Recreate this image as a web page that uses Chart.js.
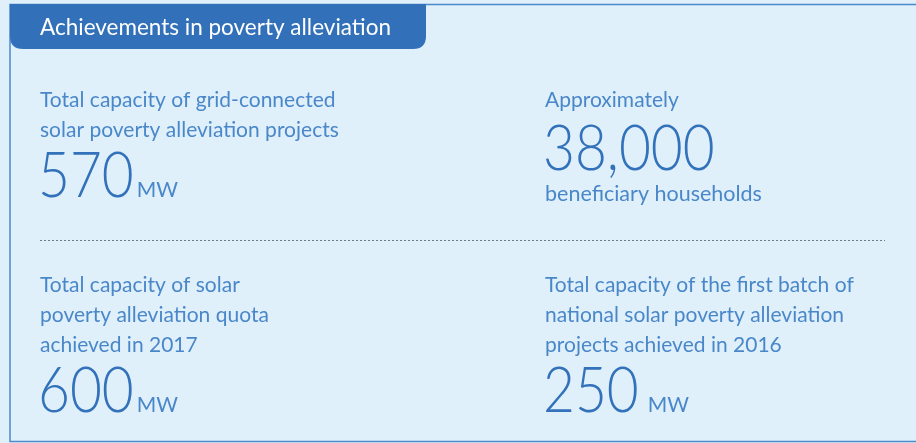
<!DOCTYPE html>
<html>
<head>
<meta charset="utf-8">
<script src="https://cdn.jsdelivr.net/npm/chart.js@4"></script>
<style>
  html, body { margin: 0; padding: 0; background: #fff; }
  #wrap { width: 916px; height: 443px; }
</style>
</head>
<body>
<div id="wrap"><canvas id="chart" width="916" height="443"></canvas></div>
<script>
// Poverty alleviation highlights: four headline figures in a two by two panel.
const title = "Achievements in poverty alleviation";
const captions = [
  ["Total capacity of grid-connected", "solar poverty alleviation projects"],
  ["Approximately"],
  ["Total capacity of solar", "poverty alleviation quota", "achieved in 2017"],
  ["Total capacity of the first batch of", "national solar poverty alleviation", "projects achieved in 2016"],
];
const values = [570, 38000, 600, 250];
const units = ["MW", "beneficiary households", "MW", "MW"];

const BG = "#dff0fb";
const TAB = "#3271b9";
const LABEL = "#4a87c9";
const NUM = "#3372ba";
const FONT = "Lato, 'Noto Sans', sans-serif";

function fmt(v) {
  return v.toLocaleString("en-US");
}

// the whole panel is painted by this plugin, figures come from chart.data
const panel = {
  id: "panel",
  beforeDraw(chart) {
    const ctx = chart.ctx;
    const W = chart.width, H = chart.height;
    ctx.save();
    ctx.fillStyle = BG;
    ctx.fillRect(0, 0, W, H);

    // frame
    ctx.strokeStyle = "#4b89cb";
    ctx.lineWidth = 1.5;
    ctx.beginPath();
    ctx.moveTo(W, 4.5);
    ctx.lineTo(10, 4.5);
    ctx.lineTo(10, H - 1.5);
    ctx.lineTo(W, H - 1.5);
    ctx.stroke();

    // header tab
    const r = 13;
    ctx.fillStyle = TAB;
    ctx.beginPath();
    ctx.moveTo(10, 4);
    ctx.lineTo(426, 4);
    ctx.lineTo(426, 49 - r);
    ctx.quadraticCurveTo(426, 49, 426 - r, 49);
    ctx.lineTo(10 + r, 49);
    ctx.quadraticCurveTo(10, 49, 10, 49 - r);
    ctx.closePath();
    ctx.fill();
    ctx.fillStyle = "#ffffff";
    ctx.font = "400 22.5px " + FONT;
    ctx.textBaseline = "alphabetic";
    ctx.fillText(title, 40, 35);

    // dotted divider
    ctx.strokeStyle = "#6f7c87";
    ctx.lineWidth = 1;
    ctx.setLineDash([2, 2]);
    ctx.beginPath();
    ctx.moveTo(40, 240.5);
    ctx.lineTo(885, 240.5);
    ctx.stroke();
    ctx.setLineDash([]);

    const vals = chart.data.datasets[0].data;
    const cells = [
      { x: 40, y: 107, numY: 197, gap: 3 },
      { x: 545, y: 107, numY: 170, gap: 0 },
      { x: 40, y: 292, numY: 412, gap: 3 },
      { x: 545, y: 292, numY: 412, gap: 9 },
    ];
    const sx = 0.86;
    cells.forEach((c, i) => {
      ctx.fillStyle = LABEL;
      ctx.font = "400 21px " + FONT;
      captions[i].forEach((line, j) => ctx.fillText(line, c.x, c.y + j * 30));
      ctx.fillStyle = NUM;
      ctx.font = "300 64px " + FONT;
      const s = fmt(vals[i]);
      ctx.save();
      ctx.translate(c.x - 2, c.numY);
      ctx.scale(sx, 1);
      ctx.fillText(s, 0, 0);
      ctx.restore();
      const w = ctx.measureText(s).width * sx;
      ctx.fillStyle = LABEL;
      if (i === 1) {
        ctx.font = "400 21.5px " + FONT;
        ctx.fillText(units[i], c.x, c.numY + 31);
      } else {
        ctx.font = "400 21px " + FONT;
        ctx.fillText(units[i], c.x - 2 + w + c.gap, c.numY);
      }
    });
    ctx.restore();
  },
};

new Chart(document.getElementById("chart").getContext("2d"), {
  type: "bar",
  data: {
    labels: captions.map((c) => c.join(" ")),
    datasets: [{ data: values, backgroundColor: "rgba(0,0,0,0)", borderWidth: 0 }],
  },
  options: {
    responsive: false,
    animation: false,
    events: [],
    plugins: { legend: { display: false }, tooltip: { enabled: false } },
    scales: { x: { display: false }, y: { display: false } },
  },
  plugins: [panel],
});
</script>
</body>
</html>
